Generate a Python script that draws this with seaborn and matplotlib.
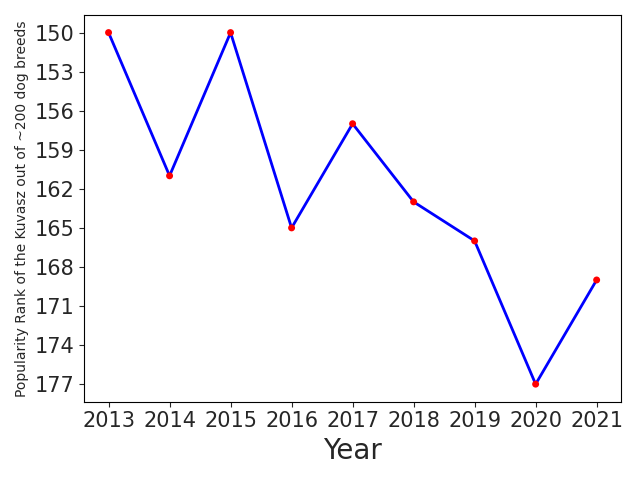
import matplotlib
import matplotlib.pyplot as plt
import pandas as pd
import seaborn as sns

matplotlib.use("Agg")

years = [2013, 2014, 2015, 2016, 2017, 2018, 2019, 2020, 2021]
ranks = [150, 161, 150, 165, 157, 163, 166, 177, 169]
yticks = list(range(150, 178, 3))

df = pd.DataFrame({"Year": years, "Rank": ranks})

sns.set_style("ticks")
fig, ax = plt.subplots(figsize=(6.4, 4.8), dpi=100)

sns.lineplot(data=df, x="Year", y="Rank", color="blue", linewidth=2, ax=ax)
sns.scatterplot(data=df, x="Year", y="Rank", color="red", s=25, edgecolor="none", zorder=3, ax=ax)

ax.invert_yaxis()
ax.set_yticks(yticks)
ax.set_xticks(years)
ax.tick_params(axis="both", labelsize=15)
ax.set_xlabel("Year", fontsize=20)
ax.set_ylabel("Popularity Rank of the Kuvasz out of ~200 dog breeds", fontsize=10)
for s in ax.spines.values():
    s.set_visible(True)
    s.set_color("black")

plt.tight_layout()
fig.savefig("out.png", dpi=100)
